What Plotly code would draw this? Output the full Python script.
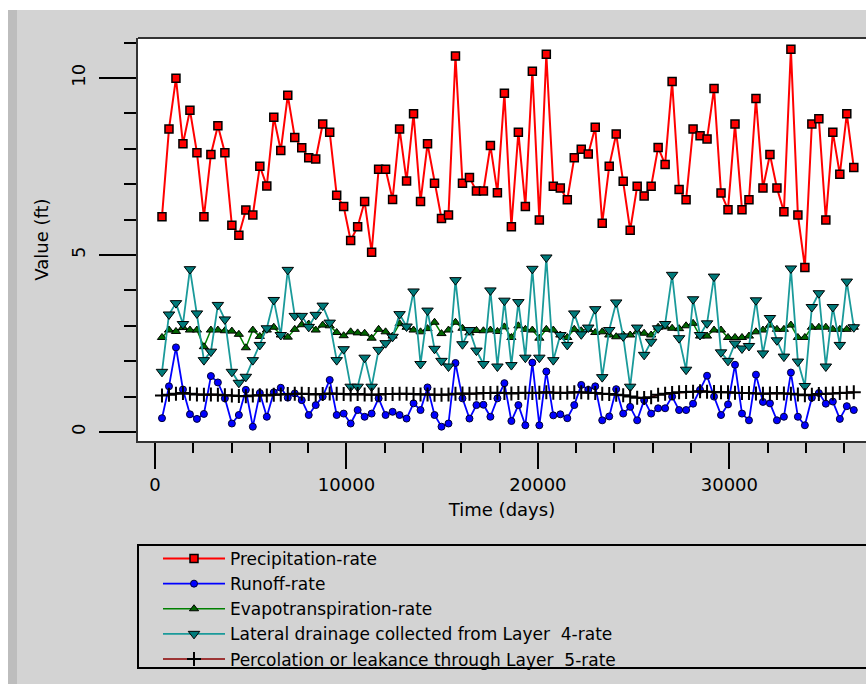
import plotly.graph_objects as go

years = list(range(1, 101))
days = [365 * y for y in years]

precip = [6.08, 8.56, 9.99, 8.14, 9.09, 7.89, 6.08, 7.84, 8.65, 7.89,
          5.84, 5.56, 6.27, 6.13, 7.51, 6.95, 8.89, 7.95, 9.51, 8.32,
          8.03, 7.75, 7.71, 8.70, 8.47, 6.69, 6.37, 5.41, 5.80, 6.51,
          5.08, 7.42, 7.42, 6.57, 8.56, 7.09, 8.99, 6.51, 8.14, 7.03,
          6.03, 6.13, 10.62, 7.03, 7.19, 6.81, 6.81, 8.09, 6.76, 9.57,
          5.80, 8.47, 6.37, 10.19, 5.99, 10.67, 6.94, 6.89, 6.56, 7.75,
          7.99, 7.85, 8.61, 5.90, 7.51, 8.42, 7.08, 5.70, 6.94, 6.67,
          6.94, 8.04, 7.56, 9.90, 6.85, 6.56, 8.56, 8.37, 8.28, 9.70,
          6.75, 6.28, 8.70, 6.28, 6.56, 9.42, 6.89, 7.84, 6.89, 6.22,
          10.81, 6.13, 4.65, 8.70, 8.85, 5.99, 8.47, 7.28, 8.99, 7.47]

runoff = [0.39, 1.29, 2.39, 1.20, 0.50, 0.37, 0.51, 1.58, 1.40, 0.95,
          0.24, 0.48, 1.19, 0.15, 1.10, 0.43, 1.12, 1.25, 0.97, 1.09,
          0.90, 0.48, 0.76, 1.00, 1.47, 0.48, 0.52, 0.24, 0.62, 0.43,
          0.52, 0.95, 0.48, 0.57, 0.48, 0.38, 0.81, 0.62, 1.26, 0.48,
          0.15, 0.24, 1.95, 0.95, 0.38, 0.76, 0.77, 0.43, 0.95, 1.38,
          0.31, 0.76, 0.19, 1.96, 0.19, 1.71, 0.47, 0.50, 0.39, 0.76,
          1.33, 1.19, 1.29, 0.33, 0.44, 1.21, 0.52, 0.71, 0.33, 0.90,
          0.52, 0.67, 0.67, 1.00, 0.62, 0.62, 0.80, 1.19, 1.59, 1.00,
          0.48, 0.78, 1.90, 0.52, 0.33, 1.62, 0.85, 0.81, 0.33, 0.43,
          1.68, 0.43, 0.19, 0.97, 1.10, 0.80, 0.86, 0.37, 0.73, 0.62]

evap = [2.67, 2.88, 2.84, 2.95, 2.88, 2.88, 2.41, 2.88, 2.88, 2.86,
        2.85, 2.76, 2.38, 2.88, 2.70, 2.88, 2.96, 2.74, 2.68, 2.90,
        3.03, 3.05, 2.88, 3.02, 3.00, 2.81, 2.72, 2.83, 2.80, 2.79,
        2.65, 2.90, 2.83, 2.71, 3.06, 2.96, 2.88, 2.83, 2.92, 3.10,
        2.78, 2.88, 3.10, 2.93, 2.80, 2.87, 2.86, 2.88, 2.84, 2.97,
        2.67, 3.00, 2.90, 2.88, 2.65, 2.90, 2.88, 2.74, 2.67, 2.90,
        2.86, 2.90, 2.81, 2.83, 2.74, 2.69, 2.74, 2.74, 2.83, 2.79,
        2.74, 2.96, 2.97, 2.93, 2.92, 3.00, 3.07, 2.71, 2.71, 2.88,
        2.88, 2.67, 2.67, 2.67, 2.71, 2.83, 2.88, 3.02, 2.90, 2.90,
        3.02, 2.67, 2.67, 2.96, 2.96, 2.96, 2.90, 2.90, 2.90, 2.96]

lateral = [1.70, 3.32, 3.64, 3.05, 4.60, 3.35, 2.03, 2.27, 3.59, 3.18,
           1.70, 1.39, 1.56, 2.03, 2.46, 2.93, 3.73, 2.74, 4.58, 3.28,
           3.28, 2.97, 3.31, 3.57, 3.09, 2.03, 2.34, 1.28, 1.28, 2.10,
           1.28, 2.32, 2.51, 2.69, 3.33, 2.98, 3.97, 1.92, 3.43, 2.35,
           2.01, 1.85, 4.29, 2.48, 2.88, 2.30, 1.92, 4.00, 1.85, 3.71,
           1.89, 3.67, 2.10, 4.61, 2.10, 4.93, 2.03, 2.74, 2.46, 3.35,
           2.76, 2.95, 3.47, 1.55, 2.88, 3.66, 2.70, 1.28, 2.95, 2.18,
           2.55, 2.93, 3.05, 4.44, 2.65, 1.76, 3.75, 2.74, 3.07, 4.39,
           2.25, 2.01, 2.50, 2.36, 2.43, 3.72, 2.22, 3.22, 2.59, 2.13,
           4.62, 1.99, 1.30, 3.53, 3.92, 1.85, 3.53, 2.46, 4.25, 2.96]

perc = [1.03, 1.05, 1.08, 1.10, 1.08, 1.06, 1.05, 1.06, 1.05, 1.04,
        1.03, 1.02, 1.01, 1.03, 1.04, 1.03, 1.05, 1.06, 1.07, 1.08,
        1.08, 1.07, 1.06, 1.07, 1.09, 1.08, 1.07, 1.06, 1.07, 1.06,
        1.05, 1.06, 1.07, 1.07, 1.08, 1.08, 1.07, 1.06, 1.06, 1.05,
        1.05, 1.06, 1.08, 1.09, 1.08, 1.09, 1.10, 1.10, 1.11, 1.10,
        1.09, 1.10, 1.11, 1.10, 1.11, 1.12, 1.11, 1.10, 1.11, 1.12,
        1.12, 1.11, 1.10, 1.08, 1.07, 1.05, 1.04, 1.00, 0.97, 0.96,
        0.98, 1.05, 1.08, 1.10, 1.12, 1.13, 1.14, 1.15, 1.14, 1.13,
        1.12, 1.12, 1.11, 1.10, 1.10, 1.09, 1.08, 1.09, 1.10, 1.09,
        1.08, 1.06, 1.04, 1.05, 1.07, 1.08, 1.09, 1.10, 1.11, 1.12]

names = ["Precipitation-rate",
         "Runoff-rate",
         "Evapotranspiration-rate",
         "Lateral drainage collected from Layer  4-rate",
         "Percolation or leakance through Layer  5-rate"]

FONT = "DejaVu Sans"
BG = "#d3d3d3"

fig = go.Figure()
fig.add_trace(go.Scatter(x=days, y=precip, name=names[0], mode="lines+markers",
                         line=dict(color="#ff0000", width=2),
                         marker=dict(symbol="square", size=8, color="#ff0000",
                                     line=dict(color="black", width=1.5))))
fig.add_trace(go.Scatter(x=days, y=runoff, name=names[1], mode="lines+markers",
                         line=dict(color="#0000ff", width=1.8),
                         marker=dict(symbol="circle", size=7, color="#0000ff",
                                     line=dict(color="#000033", width=1))))
fig.add_trace(go.Scatter(x=days, y=evap, name=names[2], mode="lines+markers",
                         line=dict(color="#008000", width=1.5),
                         marker=dict(symbol="triangle-up", size=8, color="#006400",
                                     line=dict(color="black", width=1))))
fig.add_trace(go.Scatter(x=days, y=lateral, name=names[3], mode="lines+markers",
                         line=dict(color="#1a9a9a", width=1.8),
                         marker=dict(symbol="triangle-down", size=10, color="#007a7a",
                                     line=dict(color="black", width=1))))
fig.add_trace(go.Scatter(x=days, y=perc, name=names[4], mode="lines+markers",
                         line=dict(color="#8b0000", width=1.5),
                         marker=dict(symbol="cross-thin", size=10, color="black",
                                     line=dict(color="black", width=2))))

px_per_day = 191.45 / 10000.0
x0 = (138 - 155) / px_per_day
x1 = (866 - 155) / px_per_day
py = 35.4
y1 = (432 - 38) / py
y0 = (432 - 441) / py

def pxx(p):
    return (p - 138) / 728.0

def pxy(p):
    return (441 - p) / 403.0

shapes = [
    dict(type="rect", xref="paper", yref="paper", x0=pxx(0), x1=pxx(870), y0=pxy(0), y1=pxy(10),
         fillcolor="white", line=dict(width=0), layer="below"),
    dict(type="rect", xref="paper", yref="paper", x0=pxx(0), x1=pxx(8), y0=pxy(0), y1=pxy(690),
         fillcolor="white", line=dict(width=0), layer="below"),
    dict(type="rect", xref="paper", yref="paper", x0=pxx(8), x1=pxx(17), y0=pxy(10), y1=pxy(690),
         fillcolor="#bdbdbd", line=dict(width=0), layer="below"),
    dict(type="line", xref="paper", yref="paper", x0=0, x1=1.01, y0=1, y1=1,
         line=dict(color="#333333", width=2)),
    dict(type="rect", xref="paper", yref="paper", x0=0, x1=pxx(880), y0=pxy(668), y1=pxy(545),
         line=dict(color="black", width=2), fillcolor="rgba(0,0,0,0)"),
]

fig.update_layout(
    width=866, height=684,
    margin=dict(l=138, r=0, t=38, b=243),
    paper_bgcolor=BG, plot_bgcolor="white",
    font=dict(family=FONT, size=18, color="black"),
    showlegend=True,
    legend=dict(x=pxx(158), y=pxy(541), xanchor="left", yanchor="top",
                bgcolor="rgba(0,0,0,0)", borderwidth=0,
                font=dict(family=FONT, size=17, color="black"),
                itemwidth=62, tracegroupgap=0),
    shapes=shapes,
    xaxis=dict(range=[x0, x1], showgrid=False, zeroline=False,
               showline=True, linecolor="#333333", linewidth=2,
               ticks="outside", ticklen=26, tickwidth=2, tickcolor="black",
               tick0=0, dtick=10000, tickformat="d",
               minor=dict(dtick=2000, tick0=0, ticklen=10, tickwidth=2,
                          tickcolor="black", ticks="outside", showgrid=False),
               tickfont=dict(family=FONT, size=18, color="black"),
               title=dict(text="Time (days)", font=dict(family=FONT, size=18, color="black"),
                          standoff=10)),
    yaxis=dict(range=[y0, y1], showgrid=False, zeroline=False,
               showline=True, linecolor="#333333", linewidth=2,
               ticks="outside", ticklen=37, tickwidth=2, tickcolor="black",
               tick0=0, dtick=5, tickangle=-90, ticklabelstandoff=7,
               minor=dict(dtick=1, tick0=0, ticklen=12, tickwidth=2,
                          tickcolor="black", ticks="outside", showgrid=False),
               tickfont=dict(family=FONT, size=18, color="black"),
               title=dict(text="Value (ft)", font=dict(family=FONT, size=18, color="black"),
                          standoff=14)),
)

fig.write_html("out.html", config={"displayModeBar": False},
               post_script="document.body.style.margin='0px';")
